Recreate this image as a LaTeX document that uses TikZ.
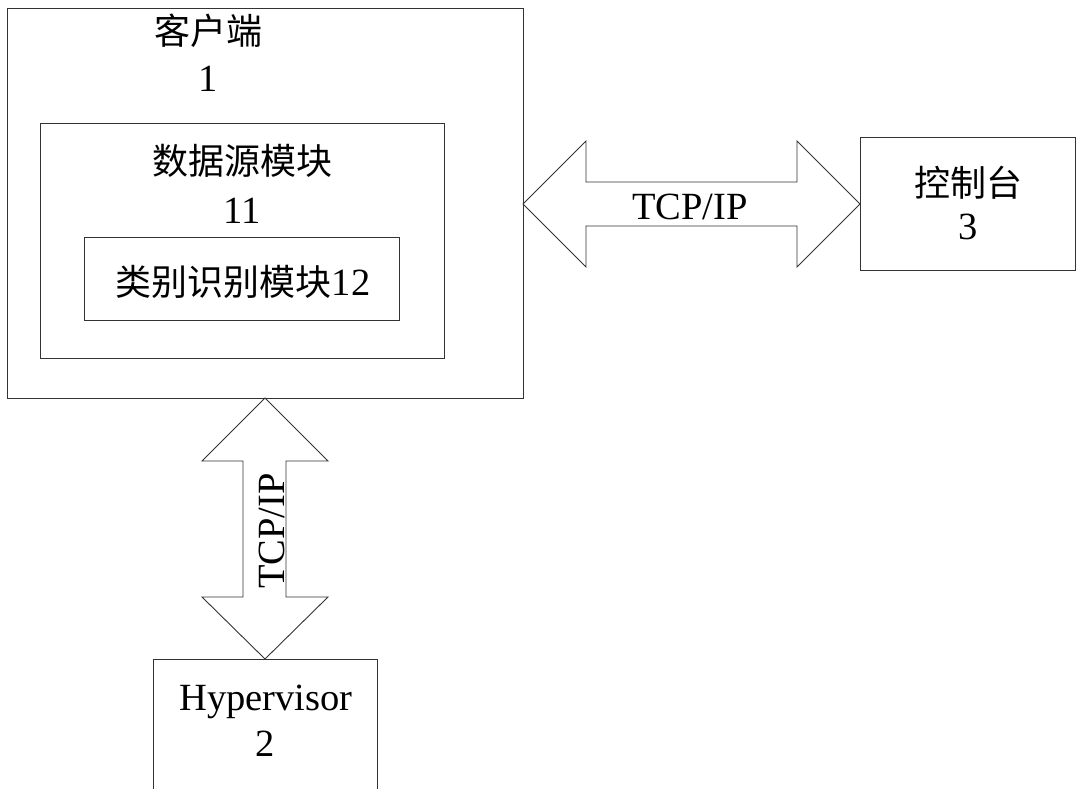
\documentclass[tikz,border=0pt]{standalone}
\usepackage{fontspec}
\setmainfont{Liberation Serif}
\newfontfamily\cjk{Noto Sans CJK SC}
\begin{document}
\begin{tikzpicture}[x=1pt,y=-1pt,
  box/.style={draw=black!80,line width=0.9pt,inner sep=0pt,outer sep=0pt},
  lbl/.style={inner sep=0pt,font=\fontsize{38.5}{40}\selectfont},
  cn/.style={inner sep=0pt,font=\fontsize{36}{38}\cjk},
  fat/.style={draw=black!80,line width=0.9pt,fill=white,line join=miter}]
\useasboundingbox (0,0) rectangle (1082,789);
\clip (0,0) rectangle (1082,789);
% boxes
\node[box,minimum width=516pt,minimum height=390pt] (client) at (265,203) {};
\node[box,minimum width=404pt,minimum height=235pt] (ds) at (242,240.5) {};
\node[box,minimum width=315pt,minimum height=83pt] (cls) at (241.5,278.5) {};
\node[box,minimum width=215pt,minimum height=133pt] (con) at (967.5,203.5) {};
\node[box,minimum width=224pt,minimum height=200pt] (hv) at (265,759) {};
% texts
\node[cn] (t1a) at (208,31) {客户端};
\node[lbl] (t1b) at (208,79) {1};
\node[cn] (t11a) at (242,161) {数据源模块};
\node[lbl] (t11b) at (242,211) {11};
\node[lbl] (t12) at (243,282) {{\cjk\fontsize{36}{38}\selectfont 类别识别模块}12};
\node[cn] (t3a) at (968,183) {控制台};
\node[lbl] (t3b) at (968,227) {3};
\node[lbl] (t2a) at (266,702) {Hypervisor};
\node[lbl] (t2b) at (265,744) {2};
% horizontal double arrow
\draw[fat] (client.east |- 0,204) -- (586,141) -- (586,182) -- (797,182) -- (797,141)
  -- (con.west |- 0,204) -- (797,267) -- (797,226) -- (586,226) -- (586,267) -- cycle;
\node[lbl] (tcph) at (690,207) {TCP/IP};
% vertical double arrow
\draw[fat] (client.south) -- (328,461) -- (286,461) -- (286,597) -- (328,597)
  -- (hv.north) -- (202,597) -- (243,597) -- (243,461) -- (202,461) -- cycle;
\node[lbl,rotate=90] (tcpv) at (272,531) {TCP/IP};
\end{tikzpicture}
\end{document}
